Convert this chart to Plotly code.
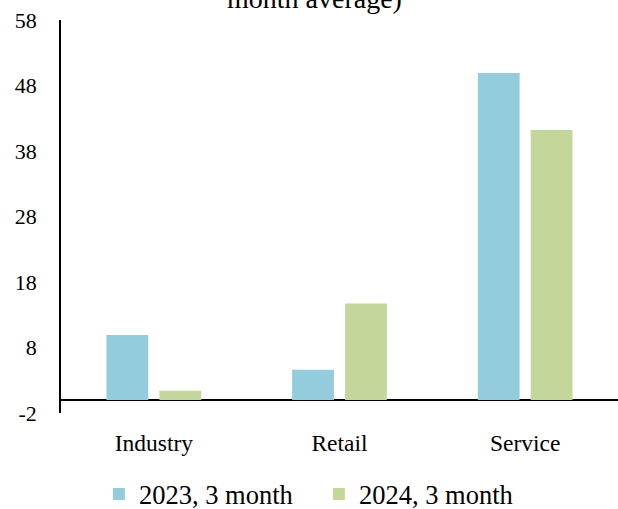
import plotly.graph_objects as go

# Sector values, two periods
categories = ["Industry", "Retail", "Service"]
series_2023 = [9.9, 4.6, 49.9]
series_2024 = [1.4, 14.7, 41.2]
series_names = ["2023, 3 month", "2024, 3 month"]
y_ticks = [-2, 8, 18, 28, 38, 48, 58]

BLUE = "#93CDDD"
GREEN = "#C4D79B"
FONT = '"Liberation Serif", "Times New Roman", serif'

fig = go.Figure()
fig.add_trace(go.Bar(x=categories, y=series_2023, name=series_names[0],
                     marker=dict(color=BLUE, line=dict(width=0))))
fig.add_trace(go.Bar(x=categories, y=series_2024, name=series_names[1],
                     marker=dict(color=GREEN, line=dict(width=0))))

fig.update_layout(
    width=618, height=509,
    margin=dict(l=61, r=0, t=20, b=96, autoexpand=False),
    paper_bgcolor="white", plot_bgcolor="white",
    barmode="group", bargap=0.43, bargroupgap=0.21,
    font=dict(family=FONT, color="black", size=22),
    showlegend=True,
    legend=dict(orientation="h", x=0.463, xanchor="center",
                yref="paper", y=-0.207, yanchor="middle",
                font=dict(size=26.5, family=FONT), traceorder="normal",
                entrywidth=175, bgcolor="rgba(0,0,0,0)"),
)

fig.update_xaxes(showline=False, showgrid=False, ticks="", tickangle=0,
                 tickfont=dict(size=23.5, family=FONT), ticklabelstandoff=13)
fig.update_yaxes(range=[-2, 58], tickvals=y_ticks, ticktext=[str(v) for v in y_ticks],
                 showgrid=False, ticks="", showline=True, linecolor="black", linewidth=1.5,
                 zeroline=True, zerolinecolor="black", zerolinewidth=2,
                 tickfont=dict(size=22, family=FONT), ticklabelstandoff=18)

# Title (second line sits at the top edge)
fig.add_annotation(text="month average)", xref="paper", yref="paper",
                   x=0.455, y=1, xanchor="center", yanchor="bottom", yshift=4,
                   showarrow=False, font=dict(size=28, family=FONT))

fig.write_html("out.html")
